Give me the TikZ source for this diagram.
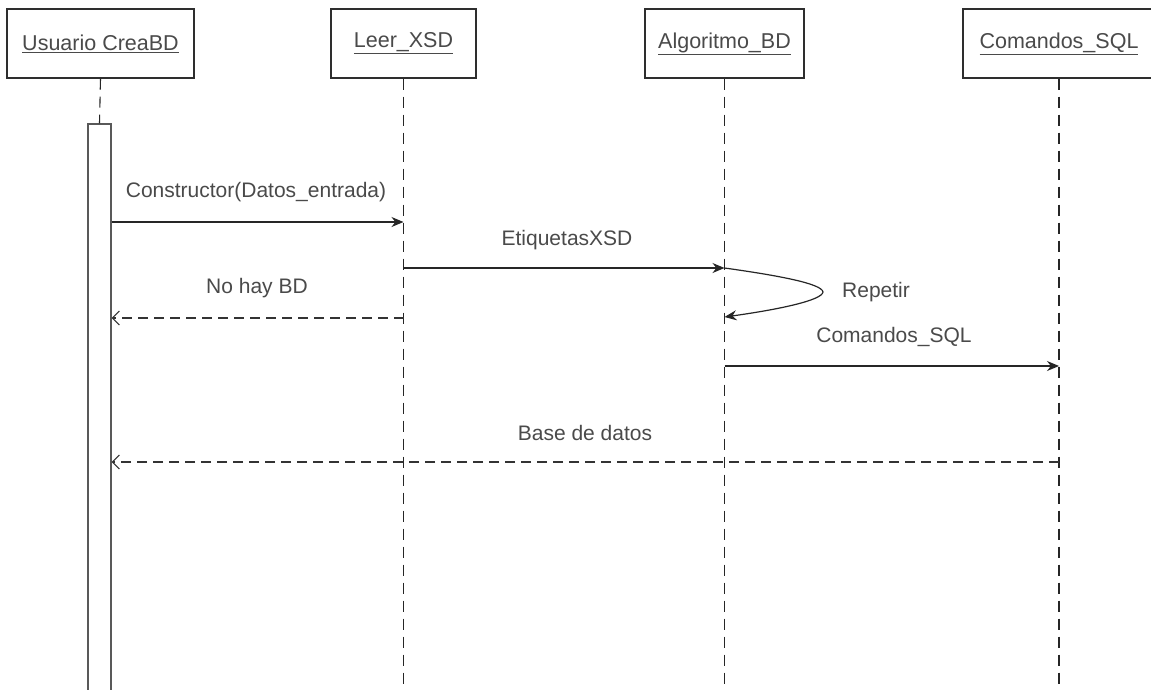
\documentclass[tikz,border=0pt]{standalone}
\usepackage{fontspec}
\setmainfont{Liberation Sans}
\usetikzlibrary{arrows.meta}
\definecolor{ink}{HTML}{2E2E2E}
\definecolor{txt}{HTML}{4A4A4A}
\begin{document}
\begin{tikzpicture}[x=1pt,y=-1pt,
  obj/.style={draw=ink, line width=1.3pt, minimum height=69pt, inner sep=0pt,
              text=txt, font=\fontsize{21.5}{25}\selectfont},
  bar/.style={draw=black!65, line width=1.2pt, minimum width=23pt, inner sep=0pt},
  life/.style={draw=black!85, line width=1.1pt, dash pattern=on 11pt off 7pt},
  call/.style={draw=black!85, line width=1.2pt, -{Stealth[length=12pt,width=10pt]}},
  reply/.style={draw=black!80, line width=1.1pt, dash pattern=on 10pt off 6pt,
                -{Straight Barb[length=7pt,width=14pt]}},
  lbl/.style={text=txt, font=\fontsize{21}{25}\selectfont, inner sep=0pt}]
\useasboundingbox (0,0) rectangle (1151,689);
\fill[white] (0,0) rectangle (1151,689);

% objects
\node[obj, minimum width=187pt] (u) at (100.5,43.5) {\underline{Usuario CreaBD}};
\node[obj, minimum width=145pt] (l) at (403.5,43.5) {\underline{Leer\_XSD}};
\node[obj, minimum width=159pt] (a) at (724.5,43.5) {\underline{Algoritmo\_BD}};
\node[obj, minimum width=192pt] (c) at (1059,43.5) {\underline{Comandos\_SQL}};

% activation of the user
\node[bar, minimum height=575pt] (act) at (99.5,411.5) {};

% lifelines
\coordinate (lend) at (403.5,689);
\coordinate (aend) at (724.5,689);
\coordinate (cend) at (1059,689);
\draw[life] (u.south) -- (act.north);
\draw[life] (l.south) -- (lend);
\draw[life] (a.south) -- (aend);
\draw[life] (c.south) -- (cend);

% messages
\draw[call] (act.east |- 0,222) -- (l.south |- 0,222);
\node[lbl] (m1) at (256,192) {Constructor(Datos\_entrada)};

\draw[call] (l.south |- 0,268) -- (a.south |- 0,268);
\node[lbl] (m2) at (567,240) {EtiquetasXSD};

\draw[reply] (l.south |- 0,318) -- (act.east |- 0,318);
\node[lbl] (m3) at (257,288) {No hay BD};

\draw[call] (a.south |- 0,268) .. controls (782,276) and (822,284) .. (823,292)
            .. controls (822,300) and (782,309) .. (a.south |- 0,317);
\node[lbl] (m4) at (876,292) {Repetir};

\draw[call] (a.south |- 0,366) -- (c.south |- 0,366);
\node[lbl] (m5) at (894,337) {Comandos\_SQL};

\draw[reply] (c.south |- 0,462) -- (act.east |- 0,462);
\node[lbl] (m6) at (585,433) {Base de datos};
\end{tikzpicture}
\end{document}
